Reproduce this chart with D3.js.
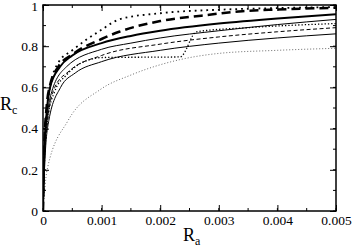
<!DOCTYPE html>
<html>
<head>
<meta charset="utf-8">
<script src="https://cdn.jsdelivr.net/npm/d3@7/dist/d3.min.js"></script>
<style>
  body { margin: 0; background: #fff; }
</style>
</head>
<body>
<div id="chart"></div>
<script>
// Ra values in units of 1e-3, Rc values
const dottedTop = [[0,0],[0.02,0.3],[0.06,0.48],[0.12,0.6],[0.26,0.72],[0.5,0.78],[1.0,0.88],[1.3,0.93],[2.0,0.96],[3.0,0.977],[4.0,0.985],[5.0,0.99]];
const dashedThick = [[0,0],[0.02,0.3],[0.06,0.5],[0.12,0.61],[0.26,0.7],[0.5,0.76],[1.0,0.835],[1.3,0.87],[2.0,0.922],[2.7,0.948],[3.4,0.97],[4.0,0.978],[5.0,0.987]];
const solidThick = [[0,0],[0.02,0.28],[0.06,0.47],[0.12,0.6],[0.29,0.7],[0.5,0.755],[1.0,0.815],[1.5,0.85],[2.0,0.875],[3.0,0.91],[4.0,0.935],[5.0,0.955]];
const solidUpper = [[0,0],[0.025,0.28],[0.07,0.45],[0.15,0.58],[0.4,0.7],[1.0,0.785],[1.5,0.815],[2.0,0.84],[3.0,0.875],[4.0,0.905],[5.0,0.93]];
const dottedStep = [[0,0],[0.03,0.28],[0.08,0.45],[0.2,0.58],[0.4,0.66],[0.6,0.71],[0.8,0.735],[1.0,0.745],[2.34,0.748],[2.62,0.87],[3.5,0.89],[5.0,0.91]];
const dashedThin = [[0,0],[0.03,0.27],[0.08,0.44],[0.2,0.6],[0.45,0.68],[1.0,0.755],[2.0,0.81],[3.0,0.845],[4.0,0.87],[5.0,0.89]];
const solidLower = [[0,0],[0.035,0.26],[0.1,0.44],[0.3,0.6],[0.55,0.67],[1.0,0.725],[2.0,0.78],[3.0,0.815],[4.0,0.84],[5.0,0.86]];
const dottedFine = [[0,0],[0.07,0.2],[0.43,0.44],[0.98,0.59],[1.5,0.66],[2.34,0.735],[3.0,0.765],[4.0,0.78],[5.0,0.79]];

const xTicks = [0, 0.001, 0.002, 0.003, 0.004, 0.005];
const xTickLabels = ["0", "0.001", "0.002", "0.003", "0.004", "0.005"];
const yTicks = [0, 0.2, 0.4, 0.6, 0.8, 1];
const yTickLabels = ["0", "0.2", "0.4", "0.6", "0.8", "1"];

const series = [
  { data: dottedFine,  width: 0.8, dash: "1,2",  color: "#444" },
  { data: solidLower,  width: 1,   dash: null },
  { data: dashedThin,  width: 1,   dash: "4,2.5" },
  { data: dottedStep,  width: 1.3, dash: "1.3,2" },
  { data: solidUpper,  width: 1,   dash: null },
  { data: solidThick,  width: 2,   dash: null },
  { data: dashedThick, width: 2.5, dash: "9,5" },
  { data: dottedTop,   width: 1.8, dash: "1.8,4" }
];

const FONT = '"Liberation Serif", "Times New Roman", Times, "DejaVu Serif", serif';
const W = 354, H = 249;
const margin = { left: 43, right: 18, top: 5, bottom: 38 };

const svg = d3.select("#chart").append("svg")
  .attr("width", W).attr("height", H);

const x = d3.scaleLinear().domain([0, 0.005]).range([margin.left, W - margin.right]);
const y = d3.scaleLinear().domain([0, 1]).range([H - margin.bottom, margin.top]);

const line = d3.line()
  .x(d => x(d[0] / 1000))
  .y(d => y(d[1]))
  .curve(d3.curveMonotoneX);

svg.append("clipPath").attr("id", "clip")
  .append("rect")
  .attr("x", x(0)).attr("y", y(1))
  .attr("width", x(0.005) - x(0)).attr("height", y(0) - y(1));

const g = svg.append("g").attr("clip-path", "url(#clip)");
series.forEach(s => {
  g.append("path")
    .attr("d", line(s.data))
    .attr("fill", "none")
    .attr("stroke", s.color || "#000")
    .attr("stroke-width", s.width)
    .attr("stroke-dasharray", s.dash);
});

// ticks (inward, mirrored on all four sides)
const xMinor = d3.range(0, 0.00501, 0.0005);
const yMinor = d3.range(0, 1.001, 0.1);

const axB = d3.axisBottom(x).tickValues(xTicks).tickSizeInner(-6).tickSizeOuter(0)
  .tickFormat((d, i) => xTickLabels[i]).tickPadding(4);
const axL = d3.axisLeft(y).tickValues(yTicks).tickSizeInner(-6).tickSizeOuter(0)
  .tickFormat((d, i) => yTickLabels[i]).tickPadding(5);

function styleAxis(sel) {
  sel.attr("font-family", null);
  sel.select(".domain").remove();
  sel.selectAll("line").attr("stroke", "#000").attr("stroke-width", 1);
  sel.selectAll("text").attr("fill", "#000")
    .style("font-family", FONT).style("font-size", "13.5px");
}

svg.append("g").attr("transform", `translate(0,${y(0)})`).call(axB).call(styleAxis);
const leftAx = svg.append("g").attr("transform", `translate(${x(0)},0)`).call(axL).call(styleAxis);
leftAx.selectAll(".tick").filter(d => d === 1).select("text").attr("dy", "0.42em");
svg.append("g").attr("transform", `translate(0,${y(1)})`)
  .call(d3.axisTop(x).tickValues(xTicks).tickSizeInner(-6).tickSizeOuter(0).tickFormat(""))
  .call(styleAxis);
svg.append("g").attr("transform", `translate(${x(0.005)},0)`)
  .call(d3.axisRight(y).tickValues(yTicks).tickSizeInner(-6).tickSizeOuter(0).tickFormat(""))
  .call(styleAxis);

// minor ticks
const minorG = svg.append("g").attr("stroke", "#000").attr("stroke-width", 1);
xMinor.forEach(v => {
  minorG.append("line").attr("x1", x(v)).attr("x2", x(v)).attr("y1", y(0)).attr("y2", y(0) - 3);
  minorG.append("line").attr("x1", x(v)).attr("x2", x(v)).attr("y1", y(1)).attr("y2", y(1) + 3);
});
yMinor.forEach(v => {
  minorG.append("line").attr("y1", y(v)).attr("y2", y(v)).attr("x1", x(0)).attr("x2", x(0) + 3);
  minorG.append("line").attr("y1", y(v)).attr("y2", y(v)).attr("x1", x(0.005)).attr("x2", x(0.005) - 3);
});

// frame
svg.append("rect")
  .attr("x", x(0)).attr("y", y(1))
  .attr("width", x(0.005) - x(0)).attr("height", y(0) - y(1))
  .attr("fill", "none").attr("stroke", "#000").attr("stroke-width", 1.5);

// axis titles
const xt = svg.append("text").attr("x", 183).attr("y", 241)
  .style("font-family", FONT).style("font-size", "18px");
xt.append("tspan").text("R");
xt.append("tspan").style("font-size", "12px").attr("dy", 4).text("a");

const yt = svg.append("text").attr("x", 0).attr("y", 110)
  .style("font-family", FONT).style("font-size", "18px");
yt.append("tspan").text("R");
yt.append("tspan").style("font-size", "12px").attr("dy", 4).text("c");
</script>
</body>
</html>
